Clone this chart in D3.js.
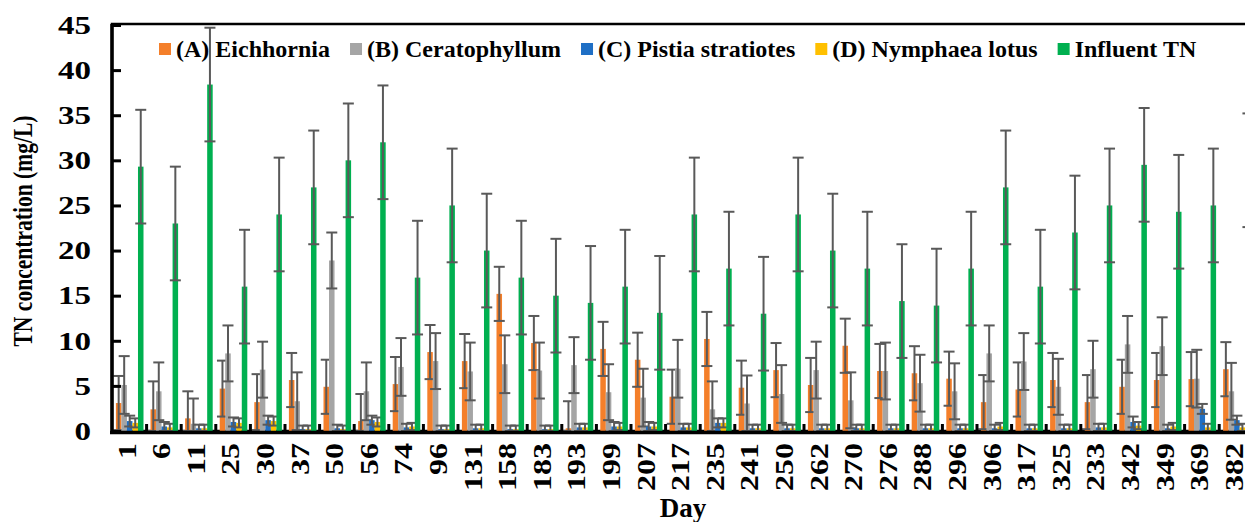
<!DOCTYPE html>
<html lang="en">
<head>
<meta charset="UTF-8">
<title>TN concentration</title>
<script src="https://d3js.org/d3.v7.min.js"></script>
<style>
    body { margin: 0; background: #fff; }
    text { font-family: "Liberation Serif", "Times New Roman", serif; font-weight: bold; fill: #000; }
    .err { stroke: #595959; stroke-width: 2px; fill: none; }
</style>
</head>
<body>
<svg width="1245" height="522"></svg>
<script>
    var days = ["1","6","11","25","30","37","50","56","74","96","131","158","183","193","199","207","217","235","241","250","262","270","276","288","296","306","317","325","233","342","349","369","382"];

    var seriesNames = ["(A) Eichhornia", "(B) Ceratophyllum", "(C) Pistia stratiotes", "(D) Nymphaea lotus", "Influent TN"];
    var seriesColors = ["#F47F2A", "#A5A5A5", "#1F6FC5", "#FFC000", "#00B050"];

    var eichhornia = [3.1, 2.4, 1.4, 4.7, 3.2, 5.65, 4.9, 1.1, 5.2, 8.75, 7.75, 15.2, 9.75, 0.3, 9.1, 7.9, 3.8, 10.2, 4.8, 6.75, 5.1, 9.45, 6.65, 6.4, 5.8, 3.2, 4.6, 5.65, 3.2, 4.9, 5.65, 5.75, 6.85];
    var eichhorniaErr = [3.0, 3.1, 3.0, 3.1, 3.1, 3.0, 3.0, 3.0, 3.0, 3.0, 3.0, 3.0, 3.0, 3.0, 3.0, 3.0, 3.0, 3.0, 3.0, 3.0, 3.0, 3.0, 3.0, 3.0, 3.0, 3.0, 3.0, 3.0, 3.0, 3.0, 3.0, 3.0, 3.0];
    var ceratophyllum = [5.1, 4.4, 0.8, 8.6, 6.8, 3.3, 18.9, 4.4, 7.1, 7.75, 6.6, 7.4, 6.7, 7.3, 4.3, 3.7, 6.9, 2.4, 3.05, 4.1, 6.75, 3.4, 6.65, 5.3, 4.4, 8.6, 7.7, 4.9, 6.85, 9.6, 9.4, 5.8, 4.4];
    var ceratophyllumErr = [3.2, 3.2, 2.8, 3.1, 3.1, 3.2, 3.1, 3.2, 3.2, 3.1, 3.2, 3.2, 3.1, 3.1, 3.1, 3.2, 3.2, 3.1, 3.1, 3.2, 3.15, 3.1, 3.15, 3.15, 3.1, 3.1, 3.15, 3.1, 3.15, 3.15, 3.2, 3.2, 3.15];
    var pistia = [1.1, 0.5, 0.3, 1.0, 1.2, 0.2, 0.3, 1.2, 0.4, 0.2, 0.3, 0.2, 0.2, 0.4, 0.5, 0.5, 0.4, 0.9, 0.3, 0.3, 0.3, 0.3, 0.3, 0.3, 0.3, 0.3, 0.3, 0.3, 0.4, 1.0, 0.3, 2.45, 1.2];
    var pistiaErr = [0.6, 0.5, 0.4, 0.5, 0.5, 0.4, 0.4, 0.5, 0.4, 0.4, 0.4, 0.4, 0.4, 0.4, 0.5, 0.5, 0.4, 0.5, 0.4, 0.4, 0.4, 0.4, 0.4, 0.4, 0.4, 0.4, 0.4, 0.4, 0.4, 0.6, 0.4, 0.55, 0.5];
    var nymphaea = [0.9, 0.4, 0.3, 0.9, 1.1, 0.2, 0.2, 1.0, 0.5, 0.2, 0.3, 0.2, 0.2, 0.4, 0.5, 0.5, 0.4, 0.9, 0.3, 0.3, 0.3, 0.3, 0.3, 0.3, 0.3, 0.5, 0.3, 0.3, 0.4, 0.6, 0.5, 0.4, 0.4];
    var nymphaeaErr = [0.5, 0.4, 0.4, 0.5, 0.5, 0.4, 0.4, 0.5, 0.4, 0.4, 0.4, 0.4, 0.4, 0.4, 0.4, 0.4, 0.4, 0.5, 0.4, 0.4, 0.4, 0.4, 0.4, 0.4, 0.4, 0.4, 0.4, 0.4, 0.4, 0.4, 0.4, 0.4, 0.4];
    var influent = [29.3, 23, 38.4, 16, 24, 27, 30, 32, 17, 25, 20, 17, 15, 14.2, 16, 13.1, 24, 18, 13, 24, 20, 18, 14.4, 13.9, 18, 27, 16, 22, 25, 29.5, 24.3, 25, 28.9];
    var influentErr = [6.3, 6.3, 6.3, 6.3, 6.3, 6.3, 6.3, 6.3, 6.3, 6.3, 6.3, 6.3, 6.3, 6.3, 6.3, 6.3, 6.3, 6.3, 6.3, 6.3, 6.3, 6.3, 6.3, 6.3, 6.3, 6.3, 6.3, 6.3, 6.3, 6.3, 6.3, 6.3, 6.3];

    var yTicks = [0, 5, 10, 15, 20, 25, 30, 35, 40, 45];

    var values = [eichhornia, ceratophyllum, pistia, nymphaea, influent];
    var errors = [eichhorniaErr, ceratophyllumErr, pistiaErr, nymphaeaErr, influentErr];

    var plotLeft = 112, plotBottom = 431, plotTop = 25, step = 34.6;

    var svg = d3.select("svg");

    var x0 = d3.scaleBand().domain(days).range([plotLeft, plotLeft + step * days.length]).padding(0);
    var x1 = d3.scaleBand().domain(d3.range(seriesNames.length)).range([3.9, 31.5]).padding(0);
    var y = d3.scaleLinear().domain([0, 45]).range([plotBottom, plotTop]).clamp(true);

    // plot frame (right edge runs past the window, like the source)
    svg.append("rect")
        .attr("x", plotLeft).attr("y", 24)
        .attr("width", step * days.length + 20).attr("height", plotBottom - 24)
        .attr("fill", "none").attr("stroke", "#000").attr("stroke-width", 2.5);

    var rows = [];
    values.forEach((arr, s) => {
        arr.forEach((v, i) => rows.push({s: s, day: days[i], v: v, e: errors[s][i]}));
    });

    var g = svg.append("g");
    seriesNames.forEach((name, s) => {
        var sub = rows.filter(d => d.s == s);
        g.selectAll("rect.s" + s)
            .data(sub)
            .enter()
            .append("rect")
            .attr("class", "s" + s)
            .attr("x", d => x0(d.day) + x1(s))
            .attr("y", d => y(d.v))
            .attr("width", x1.bandwidth())
            .attr("height", d => plotBottom - y(d.v))
            .attr("fill", seriesColors[s]);

        var eg = g.selectAll("g.e" + s)
            .data(sub)
            .enter()
            .append("g")
            .attr("class", "err");
        var cx = d => x0(d.day) + x1(s) + x1.bandwidth() / 2;
        eg.append("line")
            .attr("x1", cx).attr("x2", cx)
            .attr("y1", d => y(d.v + d.e)).attr("y2", d => y(d.v - d.e));
        eg.append("line")
            .attr("x1", d => cx(d) - 5.5).attr("x2", d => cx(d) + 5.5)
            .attr("y1", d => y(d.v + d.e)).attr("y2", d => y(d.v + d.e));
        eg.append("line")
            .attr("x1", d => cx(d) - 5.5).attr("x2", d => cx(d) + 5.5)
            .attr("y1", d => y(d.v - d.e)).attr("y2", d => y(d.v - d.e));
    });

    // y axis
    var yAxis = svg.append("g")
        .attr("transform", "translate(" + plotLeft + ",0)")
        .call(d3.axisLeft(y).tickValues(yTicks).tickSizeInner(-9).tickSizeOuter(0).tickPadding(21));
    yAxis.select(".domain").attr("stroke", "#000").attr("stroke-width", 3.5).attr("d", "M0," + (plotBottom + 2) + "V24");
    yAxis.selectAll(".tick line").attr("stroke", "#000").attr("stroke-width", 3);
    yAxis.selectAll(".tick text")
        .attr("font-family", null).attr("font-size", null)
        .style("font-size", "26px")
        .attr("textLength", d => String(d).length * 16.5)
        .attr("lengthAdjust", "spacingAndGlyphs");

    // x axis
    svg.append("line")
        .attr("x1", plotLeft - 2).attr("x2", 1245)
        .attr("y1", plotBottom + 1.5).attr("y2", plotBottom + 1.5)
        .attr("stroke", "#000").attr("stroke-width", 3.5);

    svg.append("g")
        .selectAll("line")
        .data(days.slice(1))
        .enter()
        .append("line")
        .attr("x1", d => x0(d)).attr("x2", d => x0(d))
        .attr("y1", plotBottom).attr("y2", plotBottom - 7)
        .attr("stroke", "#000").attr("stroke-width", 3);

    svg.append("g")
        .selectAll("text")
        .data(days)
        .enter()
        .append("text")
        .attr("transform", d => "translate(" + (x0(d) + x0.bandwidth() / 2 - 2.5) + "," + (plotBottom + 12) + ") rotate(-90)")
        .attr("dy", "0.35em")
        .style("text-anchor", "end")
        .style("font-size", "25px")
        .attr("textLength", d => d.length * 16)
        .attr("lengthAdjust", "spacingAndGlyphs")
        .text(d => d);

    svg.append("text")
        .attr("x", 683).attr("y", 517)
        .style("text-anchor", "middle")
        .style("font-size", "27px")
        .text("Day");

    svg.append("text")
        .attr("transform", "translate(32,231) rotate(-90)")
        .style("text-anchor", "middle")
        .style("font-size", "27px")
        .attr("textLength", 231)
        .attr("lengthAdjust", "spacingAndGlyphs")
        .text("TN concentration (mg/L)");

    // legend
    var lx = 159;
    seriesNames.forEach((name, s) => {
        svg.append("rect")
            .attr("x", lx).attr("y", 43)
            .attr("width", 12).attr("height", 12)
            .attr("fill", seriesColors[s]);
        var t = svg.append("text")
            .attr("x", lx + 17).attr("y", 57)
            .style("font-size", "24px")
            .text(name);
        lx += 17 + t.node().getComputedTextLength() + 20;
    });
</script>
</body>
</html>
